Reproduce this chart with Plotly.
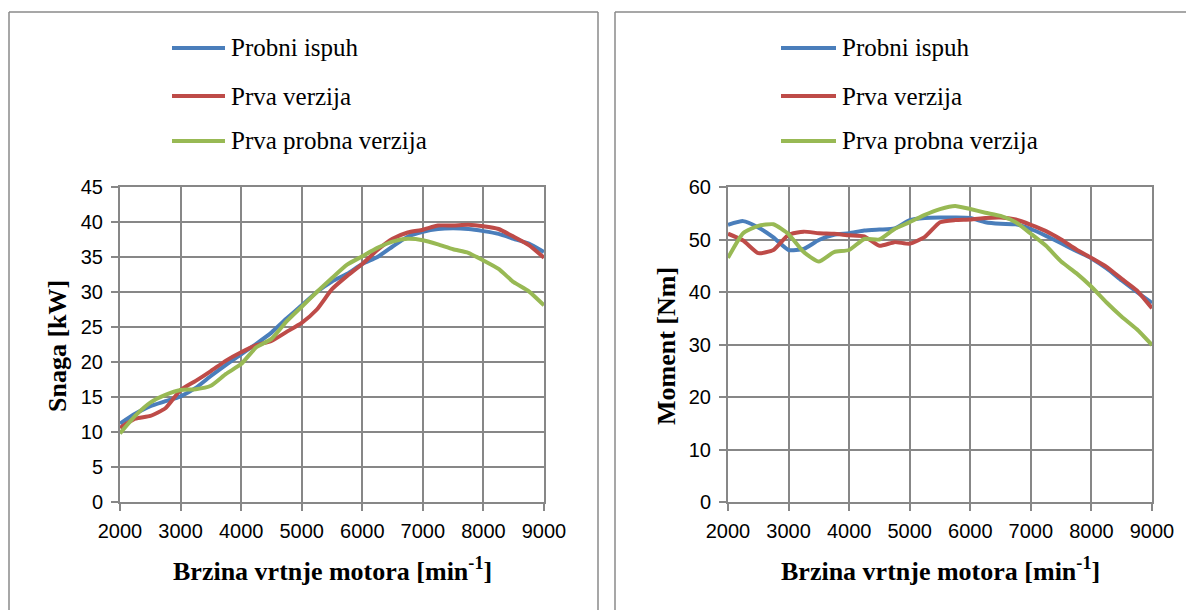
import plotly.graph_objects as go

# engine speed [min^-1]
rpm = [2000, 2250, 2500, 2750, 3000, 3250, 3500, 3750, 4000, 4250, 4500, 4750,
       5000, 5250, 5500, 5750, 6000, 6250, 6500, 6750, 7000, 7250, 7500, 7750,
       8000, 8250, 8500, 8750, 9000]

series_names = ["Probni ispuh", "Prva verzija", "Prva probna verzija"]

# power [kW]
power_probni = [11.2, 12.6, 13.7, 14.4, 15.1, 16.3, 18.0, 19.6, 21.1, 22.6, 24.2, 26.2,
                28.1, 30.0, 31.5, 32.6, 34.0, 35.0, 36.5, 37.9, 38.6, 39.0, 39.1, 39.0,
                38.7, 38.3, 37.6, 36.9, 35.7]
power_prva = [10.6, 11.9, 12.3, 13.4, 16.0, 17.3, 18.7, 20.2, 21.4, 22.4, 23.0, 24.3,
              25.6, 27.5, 30.4, 32.3, 34.0, 36.0, 37.6, 38.5, 38.9, 39.5, 39.5, 39.6,
              39.4, 39.0, 37.9, 36.7, 34.9]
power_probna = [9.8, 12.3, 14.2, 15.3, 16.0, 16.1, 16.6, 18.3, 19.7, 22.1, 23.3, 25.8,
                27.9, 30.0, 32.0, 33.9, 35.1, 36.3, 37.2, 37.6, 37.4, 36.8, 36.1, 35.6,
                34.5, 33.3, 31.4, 30.1, 28.1]

# torque [Nm]
torque_probni = [52.8, 53.5, 52.3, 50.4, 48.0, 48.2, 49.9, 50.9, 51.2, 51.7, 51.9, 52.1,
                 53.7, 54.1, 54.2, 54.2, 54.1, 53.3, 53.0, 52.9, 52.0, 50.7, 49.3, 47.8,
                 46.4, 44.5, 42.2, 40.0, 37.9]
torque_prva = [51.1, 49.8, 47.4, 48.0, 50.9, 51.5, 51.2, 51.1, 50.8, 50.6, 48.8, 49.5,
               49.2, 50.5, 53.3, 53.7, 53.8, 54.1, 54.2, 53.8, 52.8, 51.6, 50.0, 48.1,
               46.5, 44.8, 42.5, 40.3, 36.9]
torque_probna = [46.5, 51.2, 52.6, 52.9, 51.0, 47.6, 45.8, 47.6, 48.0, 50.1, 50.0, 52.0,
                 53.3, 54.7, 55.8, 56.4, 55.8, 55.1, 54.5, 53.3, 51.1, 48.8, 45.8, 43.6,
                 41.0, 38.0, 35.3, 32.9, 29.9]

COLORS = ["#4A7EBB", "#BE4B48", "#98B954"]
GRID = "#878787"
SERIF = "Liberation Serif, Times New Roman, serif"
TICK_FONT = "Liberation Sans, Arial, sans-serif"
LINE_W = 4

# the page body has an 8px margin, so the figure is drawn 8px in from the window edge
OFFSET = 8
W, H = 1194 - OFFSET, 610 - OFFSET

fig = go.Figure()

panels = [
    ("x", "y", [power_probni, power_prva, power_probna]),
    ("x2", "y2", [torque_probni, torque_prva, torque_probna]),
]
for xa, ya, data in panels:
    for name, vals, color in zip(series_names, data, COLORS):
        fig.add_trace(go.Scatter(
            x=rpm, y=vals, name=name, xaxis=xa, yaxis=ya,
            mode="lines",
            line={"color": color, "width": LINE_W, "shape": "spline", "smoothing": 0.5},
            showlegend=False,
        ))


def px_x(v):
    """Window pixel column -> paper fraction."""
    return max(0.0, (v - OFFSET) / W)


def px_y(v):
    """Window pixel row -> paper fraction."""
    return min(1.0, 1 - (v - OFFSET) / H)


axis_common = dict(
    showgrid=True, gridcolor=GRID, gridwidth=2,
    showline=True, linecolor=GRID, linewidth=2, mirror=True,
    ticks="outside", ticklen=7, tickcolor=GRID, tickwidth=2,
    tickfont={"family": TICK_FONT, "size": 20, "color": "#000000"},
    zeroline=False, fixedrange=True, automargin=False,
)

y_dom = [px_y(502), px_y(187)]
fig.update_layout(
    width=W, height=H, autosize=False,
    paper_bgcolor="white", plot_bgcolor="white",
    margin={"l": 0, "r": 0, "t": 0, "b": 0, "pad": 0},
    xaxis={**axis_common, "domain": [px_x(120), px_x(544)], "range": [2000, 9000],
           "dtick": 1000, "anchor": "y", "ticklabelstandoff": 3},
    yaxis={**axis_common, "domain": y_dom, "range": [0, 45], "dtick": 5,
           "anchor": "x", "ticklabelstandoff": 4},
    xaxis2={**axis_common, "domain": [px_x(728), px_x(1152)], "range": [2000, 9000],
            "dtick": 1000, "anchor": "y2", "ticklabelstandoff": 3},
    yaxis2={**axis_common, "domain": y_dom, "range": [0, 60], "dtick": 10,
            "anchor": "x2", "ticklabelstandoff": 4},
)

shapes = []
annotations = []

# chart-area borders (open frames running off the bottom / right edge)
border = {"color": "#8a8a8a", "width": 1.5}
top_y = px_y(12)
for x0, x1 in [(9, 598), (615, 1194)]:
    shapes.append(dict(type="line", xref="paper", yref="paper",
                       x0=px_x(x0), x1=px_x(x1), y0=top_y, y1=top_y, line=border))
    shapes.append(dict(type="line", xref="paper", yref="paper",
                       x0=px_x(x0), x1=px_x(x0), y0=0, y1=top_y, line=border))
shapes.append(dict(type="line", xref="paper", yref="paper",
                   x0=px_x(598), x1=px_x(598), y0=0, y1=top_y, line=border))

# legends
legend_rows = [48, 96, 141]
for lx0, lx1 in [(172, 225), (781, 836)]:
    for name, color, ry in zip(series_names, COLORS, legend_rows):
        shapes.append(dict(type="line", xref="paper", yref="paper",
                           x0=px_x(lx0), x1=px_x(lx1), y0=px_y(ry), y1=px_y(ry),
                           line={"color": color, "width": LINE_W}))
        annotations.append(dict(text=name, xref="paper", yref="paper",
                                x=px_x(lx1 + 4), y=px_y(ry), xanchor="left", yanchor="middle",
                                showarrow=False,
                                font={"family": SERIF, "size": 25, "color": "#000000"}))

# axis titles
xtitle = "<b>Brzina vrtnje motora [min<sup>-1</sup>]</b>"
for cx in [332, 940]:
    annotations.append(dict(text=xtitle, xref="paper", yref="paper",
                            x=px_x(cx), y=px_y(569), xanchor="center", yanchor="middle",
                            showarrow=False,
                            font={"family": SERIF, "size": 26, "color": "#000000"}))
for cx, txt in [(57, "<b>Snaga [kW]</b>"), (666, "<b>Moment [Nm]</b>")]:
    annotations.append(dict(text=txt, xref="paper", yref="paper",
                            x=px_x(cx), y=px_y(346), xanchor="center", yanchor="middle",
                            textangle=-90, showarrow=False,
                            font={"family": SERIF, "size": 26, "color": "#000000"}))

fig.update_layout(shapes=shapes, annotations=annotations)

fig.write_html("out.html")
